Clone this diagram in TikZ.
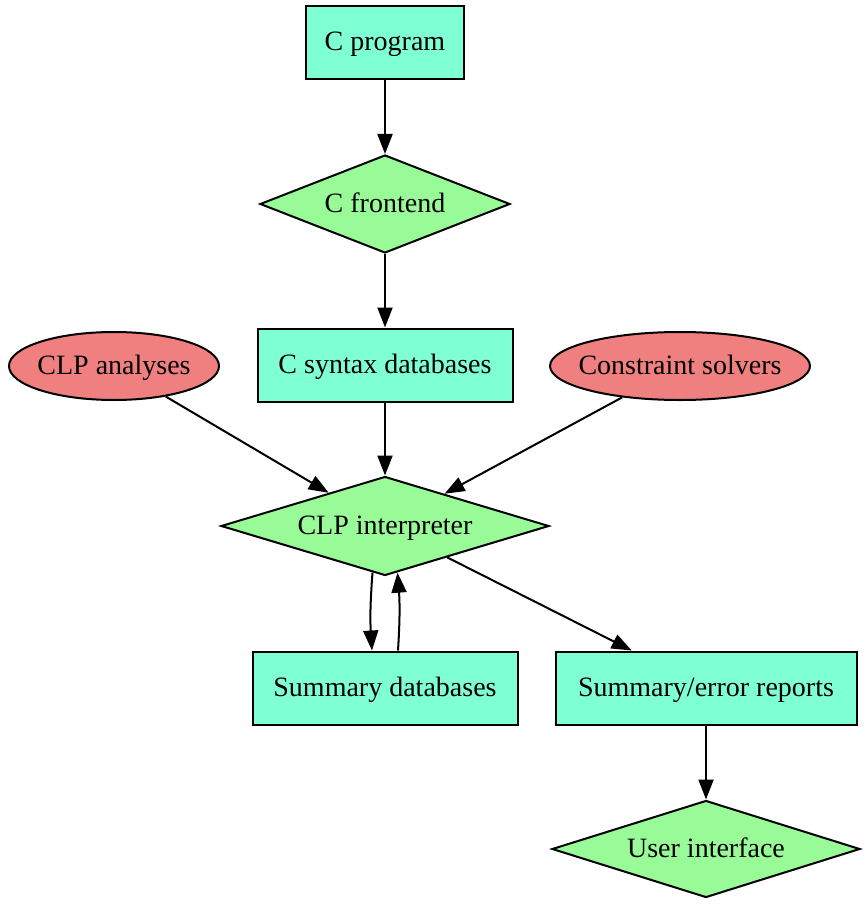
\documentclass[tikz,border=0pt]{standalone}
\usepackage{fontspec}
\setmainfont{Liberation Serif}
\usetikzlibrary{shapes.geometric,arrows.meta}
\definecolor{aqua}{HTML}{7FFFD4}
\definecolor{pale}{HTML}{98FB98}
\definecolor{coral}{HTML}{F08080}

\begin{document}
\begin{tikzpicture}[x=0.5pt,y=-0.5pt,
    every node/.style={draw,line width=1pt,font=\fontsize{14}{16}\selectfont,inner sep=0pt,
      text height=9pt,text depth=1pt},
    box/.style={rectangle,fill=aqua,minimum height=36.5pt},
    dia/.style={diamond,fill=pale,aspect=3},
    ell/.style={ellipse,fill=coral,minimum height=34pt,inner xsep=-6pt},
    arr/.style={line width=1pt,-{Triangle[length=10pt,width=7.5pt]}}]

    \useasboundingbox (0,0) rectangle (865,904); %page size

    % top chain
    \node[box,minimum width=79pt] (prog) at (385,43) {C program};
    \node[dia,minimum width=125pt,minimum height=49pt] (front) at (385,204) {C frontend};
    \node[box,minimum width=127.5pt] (syntax) at (385,365) {C syntax databases};

    % side inputs
    \node[ell,minimum width=105pt] (anal) at (114,366) {CLP analyses};
    \node[ell,minimum width=130pt] (solv) at (680,366) {Constraint solvers};

    \node[dia,minimum width=164pt,minimum height=49.5pt] (interp) at (385,526) {CLP interpreter};

    % outputs
    \node[box,minimum width=132.5pt] (sumdb) at (385,688) {Summary databases};
    \node[box,minimum width=150.5pt] (report) at (706,688) {Summary/error reports};
    \node[dia,minimum width=154pt,minimum height=48.5pt] (ui) at (706,849) {User interface};

    \draw[arr] (prog) -- (front);
    \draw[arr] (front) -- (syntax);
    \draw[arr] (syntax) -- (interp);
    \draw[arr] (anal) -- (interp);
    \draw[arr] (solv) -- (interp);
    \draw[arr] (interp.-105) to[bend right=4] ([xshift=-6.5pt]sumdb.north);
    \draw[arr] ([xshift=6.5pt]sumdb.north) to[bend right=4] (interp.-75);
    \draw[arr] (interp) -- (report);
    \draw[arr] (report) -- (ui);
  \end{tikzpicture}
\end{document}
